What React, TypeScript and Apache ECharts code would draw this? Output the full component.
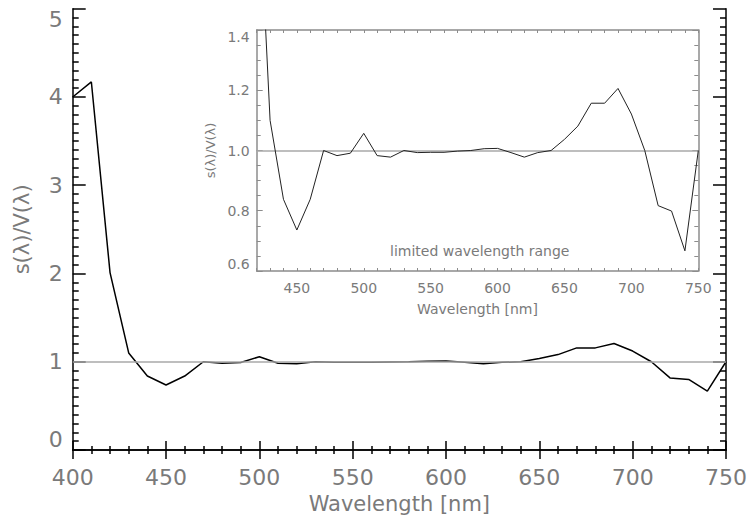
import React, { useEffect, useRef } from "react";
import * as echarts from "echarts";

// Wavelengths (nm) and ratio s(λ)/V(λ)
const WAVELENGTHS = [400, 410, 420, 430, 440, 450, 460, 470, 480, 490, 500, 510, 520, 530, 540, 550, 560, 570, 580, 590, 600, 610, 620, 630, 640, 650, 660, 670, 680, 690, 700, 710, 720, 730, 740, 750];
const RATIO = [4.0, 4.17, 2.01, 1.1, 0.838, 0.736, 0.838, 1.0, 0.983, 0.991, 1.057, 0.983, 0.978, 1.0, 0.993, 0.994, 0.994, 0.998, 1.0, 1.006, 1.007, 0.993, 0.978, 0.993, 1.0, 1.037, 1.081, 1.157, 1.157, 1.206, 1.121, 1.0, 0.817, 0.799, 0.667, 1.0];
const REFERENCE_LEVEL = 1;

const MAIN_X_RANGE = [400, 750];
const MAIN_Y_RANGE = [0, 5];
const INSET_X_RANGE = [420, 750];
const INSET_Y_RANGE = [0.6, 1.4];
const INSET_X_LABELS = [450, 500, 550, 600, 650, 700, 750];

const X_TITLE = "Wavelength [nm]";
const Y_TITLE = "s(λ)/V(λ)";
const INSET_NOTE = "limited wavelength range";

const FONT = "DejaVu Sans";
const LABEL_COLOR = "#7a7a7a";
const INSET_AXIS_COLOR = "#8c8c8c";

export default function App() {
  const ref = useRef<HTMLDivElement>(null);
  useEffect(() => {
    document.body.style.margin = "0";
    const chart = echarts.init(ref.current!, null, { renderer: "svg" });
    const pts = WAVELENGTHS.map((w, i) => [w, RATIO[i]]);

    const mainAxisLine = { show: true, lineStyle: { color: "#000", width: 1.5 } };
    const insetAxisLine = { show: true, lineStyle: { color: INSET_AXIS_COLOR, width: 1.5 } };

    const option: any = {
      animation: false,
      backgroundColor: "#fff",
      textStyle: { fontFamily: FONT },
      grid: [
        { left: 72.7, right: 22.7, top: 8.7, bottom: 71, containLabel: false },
        { left: 256.7, right: 51.7, top: 30, bottom: 250, containLabel: false, show: true, backgroundColor: "#fff", borderWidth: 0 },
      ],
      xAxis: [
        // 0 main bottom
        {
          type: "value", gridIndex: 0, position: "bottom", min: MAIN_X_RANGE[0], max: MAIN_X_RANGE[1], interval: 50,
          axisLine: mainAxisLine,
          axisTick: { show: true, inside: true, length: 9, lineStyle: { color: "#000", width: 1.5 } },
          minorTick: { show: true, splitNumber: 5, length: 4, lineStyle: { color: "#000", width: 1.5 } },
          splitLine: { show: false },
          axisLabel: { color: LABEL_COLOR, fontSize: 22, margin: 16, fontFamily: FONT },
          name: X_TITLE, nameLocation: "middle", nameGap: 43,
          nameTextStyle: { color: LABEL_COLOR, fontSize: 21, fontFamily: FONT },
        },
        // 1 main top
        {
          type: "value", gridIndex: 0, position: "top", min: MAIN_X_RANGE[0], max: MAIN_X_RANGE[1], interval: 50,
          axisLine: mainAxisLine,
          axisTick: { show: true, inside: true, length: 9, lineStyle: { color: "#000", width: 1.5 } },
          minorTick: { show: true, splitNumber: 5, length: 4, lineStyle: { color: "#000", width: 1.5 } },
          splitLine: { show: false },
          axisLabel: { show: false },
        },
        // 2 inset bottom
        {
          type: "value", gridIndex: 1, position: "bottom", min: INSET_X_RANGE[0], max: INSET_X_RANGE[1], interval: 10,
          axisLine: insetAxisLine,
          axisTick: { show: true, inside: true, length: 3, lineStyle: { color: INSET_AXIS_COLOR, width: 1 } },
          splitLine: { show: false },
          axisLabel: {
            show: true, interval: 0, color: LABEL_COLOR, fontSize: 14, margin: 10, fontFamily: FONT,
            formatter: (v: number) => (INSET_X_LABELS.includes(Math.round(v)) ? String(Math.round(v)) : ""),
          },
          name: X_TITLE, nameLocation: "middle", nameGap: 31,
          nameTextStyle: { color: LABEL_COLOR, fontSize: 14, fontFamily: FONT },
        },
        // 3 inset top
        {
          type: "value", gridIndex: 1, position: "top", min: INSET_X_RANGE[0], max: INSET_X_RANGE[1], interval: 10,
          axisLine: insetAxisLine,
          axisTick: { show: true, inside: true, length: 3, lineStyle: { color: INSET_AXIS_COLOR, width: 1 } },
          splitLine: { show: false },
          axisLabel: { show: false },
        },
      ],
      yAxis: [
        // 0 main left
        {
          type: "value", gridIndex: 0, position: "left", min: MAIN_Y_RANGE[0], max: MAIN_Y_RANGE[1], interval: 1,
          axisLine: mainAxisLine,
          axisTick: { show: true, inside: true, length: 13, lineStyle: { color: "#000", width: 1.5 } },
          minorTick: { show: true, splitNumber: 10, length: 6, lineStyle: { color: "#000", width: 1.5 } },
          splitLine: { show: false },
          axisLabel: { color: LABEL_COLOR, fontSize: 22, margin: 10, fontFamily: FONT, verticalAlignMaxLabel: "top", verticalAlignMinLabel: "bottom" },
          name: Y_TITLE, nameLocation: "middle", nameGap: 40, nameRotate: 90,
          nameTextStyle: { color: LABEL_COLOR, fontSize: 21, fontFamily: FONT },
        },
        // 1 main right
        {
          type: "value", gridIndex: 0, position: "right", min: MAIN_Y_RANGE[0], max: MAIN_Y_RANGE[1], interval: 1,
          axisLine: mainAxisLine,
          axisTick: { show: true, inside: true, length: 13, lineStyle: { color: "#000", width: 1.5 } },
          minorTick: { show: true, splitNumber: 10, length: 6, lineStyle: { color: "#000", width: 1.5 } },
          splitLine: { show: false },
          axisLabel: { show: false },
        },
        // 2 inset left
        {
          type: "value", gridIndex: 1, position: "left", min: INSET_Y_RANGE[0], max: INSET_Y_RANGE[1], interval: 0.2,
          axisLine: insetAxisLine,
          axisTick: { show: true, inside: true, length: 6, lineStyle: { color: INSET_AXIS_COLOR, width: 1 } },
          minorTick: { show: true, splitNumber: 4, length: 4, lineStyle: { color: INSET_AXIS_COLOR, width: 1 } },
          splitLine: { show: false },
          axisLabel: { color: LABEL_COLOR, fontSize: 14, margin: 7, fontFamily: FONT, formatter: (v: number) => v.toFixed(1), verticalAlignMaxLabel: "top", verticalAlignMinLabel: "bottom" },
          name: Y_TITLE, nameLocation: "middle", nameGap: 34, nameRotate: 90,
          nameTextStyle: { color: LABEL_COLOR, fontSize: 13, fontFamily: FONT },
        },
        // 3 inset right
        {
          type: "value", gridIndex: 1, position: "right", min: INSET_Y_RANGE[0], max: INSET_Y_RANGE[1], interval: 0.2,
          axisLine: insetAxisLine,
          axisTick: { show: true, inside: true, length: 6, lineStyle: { color: INSET_AXIS_COLOR, width: 1 } },
          minorTick: { show: true, splitNumber: 4, length: 4, lineStyle: { color: INSET_AXIS_COLOR, width: 1 } },
          splitLine: { show: false },
          axisLabel: { show: false },
        },
      ],
      series: [
        {
          type: "line", xAxisIndex: 0, yAxisIndex: 0, data: pts, symbol: "none", z: 3,
          lineStyle: { color: "#000", width: 1.5 },
          markLine: {
            silent: true, symbol: "none", label: { show: false },
            lineStyle: { color: "#a8a8a8", width: 1.5, type: "solid" },
            data: [{ yAxis: REFERENCE_LEVEL }],
          },
        },
        {
          type: "line", xAxisIndex: 2, yAxisIndex: 2, data: pts, symbol: "none", z: 5, clip: true,
          lineStyle: { color: "#222", width: 1 },
          markLine: {
            silent: true, symbol: "none", label: { show: false },
            lineStyle: { color: "#a8a8a8", width: 1.5, type: "solid" },
            data: [{ yAxis: REFERENCE_LEVEL }],
          },
        },
      ],
      graphic: [
        {
          type: "text", left: 390, top: 244, z: 10,
          style: { text: INSET_NOTE, fill: LABEL_COLOR, fontSize: 14, fontFamily: FONT },
        },
      ],
    };
    chart.setOption(option);
    return () => chart.dispose();
  }, []);
  return <div ref={ref} style={{ width: 750, height: 521 }} />;
}
